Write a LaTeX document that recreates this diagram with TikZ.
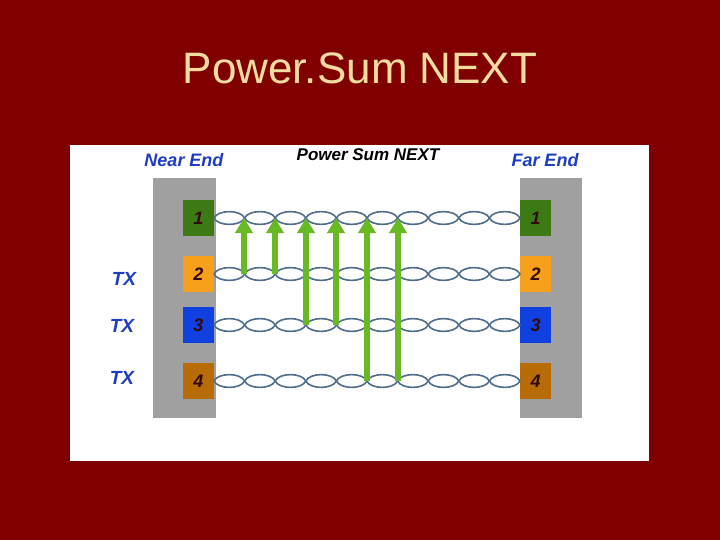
\documentclass[tikz,border=0pt]{standalone}
\usepackage{fontspec}
\setmainfont{Liberation Sans}
\usetikzlibrary{arrows.meta}
\definecolor{slidered}{RGB}{128,0,0}
\definecolor{titletan}{RGB}{242,220,160}
\definecolor{endblue}{RGB}{30,60,190}
\definecolor{bargrey}{RGB}{160,160,160}
\definecolor{pairblue}{RGB}{80,110,140}
\definecolor{arrowgreen}{RGB}{104,186,36}
\definecolor{pgreen}{RGB}{60,122,20}
\definecolor{porange}{RGB}{247,160,28}
\definecolor{pblue}{RGB}{16,64,224}
\definecolor{pbrown}{RGB}{184,108,8}
\tikzset{
  endlabel/.style={text=endblue,font=\fontsize{18}{20}\selectfont\bfseries\itshape},
  txlabel/.style={text=endblue,font=\fontsize{19}{21}\selectfont\bfseries\itshape},
  pin/.style={minimum width=31,minimum height=36,inner sep=0pt,
    font=\fontsize{18}{20}\selectfont\bfseries\itshape,text={rgb,255:red,50;green,10;blue,10}},
  pair/.style={draw=pairblue,line width=1.6pt},
  xtalk/.style={draw=arrowgreen,line width=6pt,-{Triangle[width=17,length=15]}}
}
\begin{document}
\begin{tikzpicture}[x=1pt,y=-1pt]
  \fill[slidered] (0,0) rectangle (720,540);
  \useasboundingbox (0,0) rectangle (720,540);
  \node[text=titletan,font=\fontsize{44}{48}\selectfont] (title) at (360,68) {Power.Sum NEXT};

  \fill[white] (70,145) rectangle (649,461);
  \fill[bargrey] (153,178) rectangle (216,418);
  \fill[bargrey] (520,178) rectangle (582,418);

  \node[endlabel] (nearend) at (184,160) {Near End};
  \node[font=\fontsize{17}{19}\selectfont\bfseries\itshape] (psnext) at (368,155) {Power Sum NEXT};
  \node[endlabel] (farend) at (545,160) {Far End};

  \node[txlabel] (tx2) at (124,279) {TX};
  \node[txlabel] (tx3) at (122,326) {TX};
  \node[txlabel] (tx4) at (122,378) {TX};

  % pins at both ends
  \foreach \i/\y/\c in {1/218/pgreen,2/274/porange,3/325/pblue,4/381/pbrown} {
    \node[pin,fill=\c] (near\i) at (198.5,\y) {\i};
    \node[pin,fill=\c] (far\i) at (535.5,\y) {\i};
  }

  % twisted pairs
  \foreach \i/\y in {1/218,2/274,3/325,4/381}
    \foreach \k in {0,...,9}
      \draw[pair] ({214+30.6*\k},\y) .. controls +(4,-8.5) and +(-4,-8.5) .. ({214+30.6*(\k+1)},\y)
        .. controls +(-4,8.5) and +(4,8.5) .. ({214+30.6*\k},\y);

  % crosstalk onto pair 1
  \foreach \j/\x/\r in {1/244/2,2/275/2,3/306/3,4/336/3,5/367/4,6/398/4} {
    \coordinate (src\j) at (\x,0 |- near\r);
    \coordinate (dst\j) at (\x,0 |- near1);
    \draw[xtalk] (src\j) -- (dst\j);
  }
\end{tikzpicture}
\end{document}
